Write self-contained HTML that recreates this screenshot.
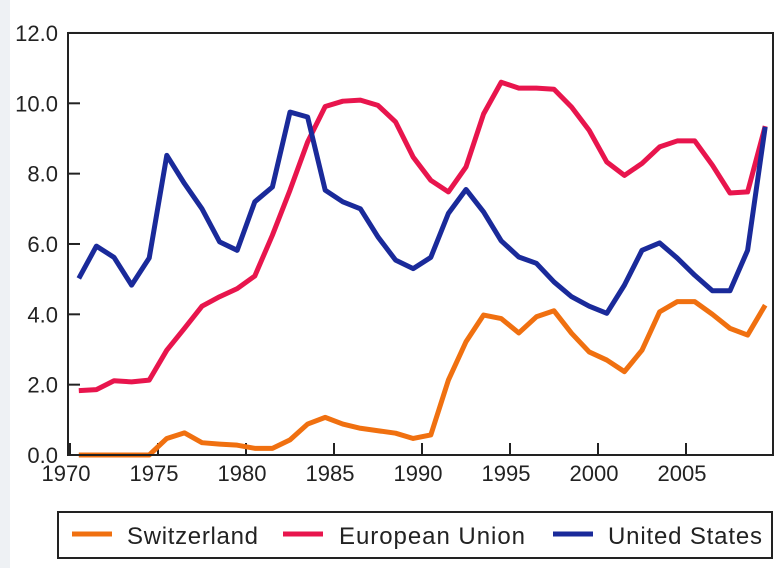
<!DOCTYPE html>
<html><head><meta charset="utf-8"><style>
html,body{margin:0;padding:0;background:#fff;}
svg{display:block;font-family:"Liberation Sans",sans-serif;}
</style></head><body>
<svg id="chart" width="784" height="568" viewBox="0 0 784 568">
<rect x="0" y="0" width="784" height="568" fill="#fff"/>
<rect x="0" y="0" width="10" height="568" fill="#eef1f4"/>
<g id="grid"></g>
<g id="series"></g>
<rect x="68" y="33" width="705" height="422" fill="none" stroke="#222" stroke-width="2"/>
<g>
<rect x="58" y="512" width="714" height="46" fill="#fff" stroke="#222" stroke-width="2"/>
<line x1="72" y1="534" x2="112" y2="534" stroke="#f07010" stroke-width="5"/>
<text x="127" y="544" font-size="24" fill="#222" textLength="131">Switzerland</text>
<line x1="283" y1="534" x2="323" y2="534" stroke="#e8154d" stroke-width="5"/>
<text x="339" y="544" font-size="24" fill="#222" textLength="186">European Union</text>
<line x1="553" y1="534" x2="593" y2="534" stroke="#1a2a9a" stroke-width="5"/>
<text x="608" y="544" font-size="24" fill="#222" textLength="154">United States</text>
</g>
</svg>
<script>
const years = [];
for (let y = 1970; y <= 2009; y++) years.push(y);
const switzerland = [0,0,0,0,0,0.47,0.63,0.35,0.31,0.28,0.19,0.19,0.43,0.88,1.07,0.88,0.76,0.69,0.62,0.47,0.57,2.13,3.22,3.98,3.88,3.47,3.93,4.1,3.46,2.93,2.7,2.37,2.98,4.07,4.36,4.36,4.0,3.6,3.41,4.26];
const europeanUnion = [1.83,1.86,2.11,2.08,2.13,2.98,3.6,4.23,4.5,4.73,5.09,6.25,7.53,8.9,9.91,10.06,10.09,9.94,9.47,8.47,7.81,7.48,8.19,9.7,10.6,10.43,10.43,10.4,9.89,9.23,8.33,7.95,8.29,8.76,8.93,8.93,8.24,7.45,7.48,9.35];
const unitedStates = [5.02,5.94,5.62,4.83,5.6,8.52,7.72,7.0,6.06,5.82,7.2,7.62,9.75,9.61,7.53,7.2,7.0,6.2,5.54,5.3,5.62,6.87,7.55,6.91,6.09,5.63,5.45,4.92,4.5,4.23,4.03,4.83,5.82,6.03,5.6,5.11,4.67,4.67,5.82,9.33];
const yTicks = [0,2,4,6,8,10,12];
const xTicks = [1970,1975,1980,1985,1990,1995,2000,2005];

const NS = "http://www.w3.org/2000/svg";
const x = yr => 70 + (yr - 1970) * 17.6;
const y = v => 455 - v * 35.17;
const grid = document.getElementById('grid');
const series = document.getElementById('series');

yTicks.forEach(t => {
  const l = document.createElementNS(NS, 'line');
  l.setAttribute('x1', 68); l.setAttribute('x2', 80);
  l.setAttribute('y1', y(t)); l.setAttribute('y2', y(t));
  l.setAttribute('stroke', '#222'); l.setAttribute('stroke-width', 2);
  
  
  grid.appendChild(l);
  const tx = document.createElementNS(NS, 'text');
  tx.setAttribute('x', 58); tx.setAttribute('y', y(t) + 8);
  tx.setAttribute('text-anchor', 'end'); tx.setAttribute('font-size', 22); tx.setAttribute('fill', '#222');
  tx.textContent = t.toFixed(1);
  
  
  grid.appendChild(tx);
});
xTicks.forEach(t => {
  const l = document.createElementNS(NS, 'line');
  l.setAttribute('x1', x(t)); l.setAttribute('x2', x(t));
  l.setAttribute('y1', 443); l.setAttribute('y2', 455);
  l.setAttribute('stroke', '#222'); l.setAttribute('stroke-width', 2);
  
  
  grid.appendChild(l);
  const tx = document.createElementNS(NS, 'text');
  tx.setAttribute('x', x(t) - 4); tx.setAttribute('y', 481);
  tx.setAttribute('text-anchor', 'middle'); tx.setAttribute('font-size', 22); tx.setAttribute('fill', '#222');
  tx.textContent = t;
  
  
  grid.appendChild(tx);
});

function drawLine(vals, color, name) {
  const p = document.createElementNS(NS, 'polyline');
  p.setAttribute('points', vals.map((v, i) => x(years[i] + 0.5) + ',' + y(v)).join(' '));
  p.setAttribute('fill', 'none'); p.setAttribute('stroke', color);
  p.setAttribute('stroke-width', 5); p.setAttribute('stroke-linejoin', 'round');
  
  
  series.appendChild(p);
}
drawLine(switzerland, '#f07010', 'switzerland-line');
drawLine(europeanUnion, '#e8154d', 'european-union-line');
drawLine(unitedStates, '#1a2a9a', 'united-states-line');
</script>
</body></html>
